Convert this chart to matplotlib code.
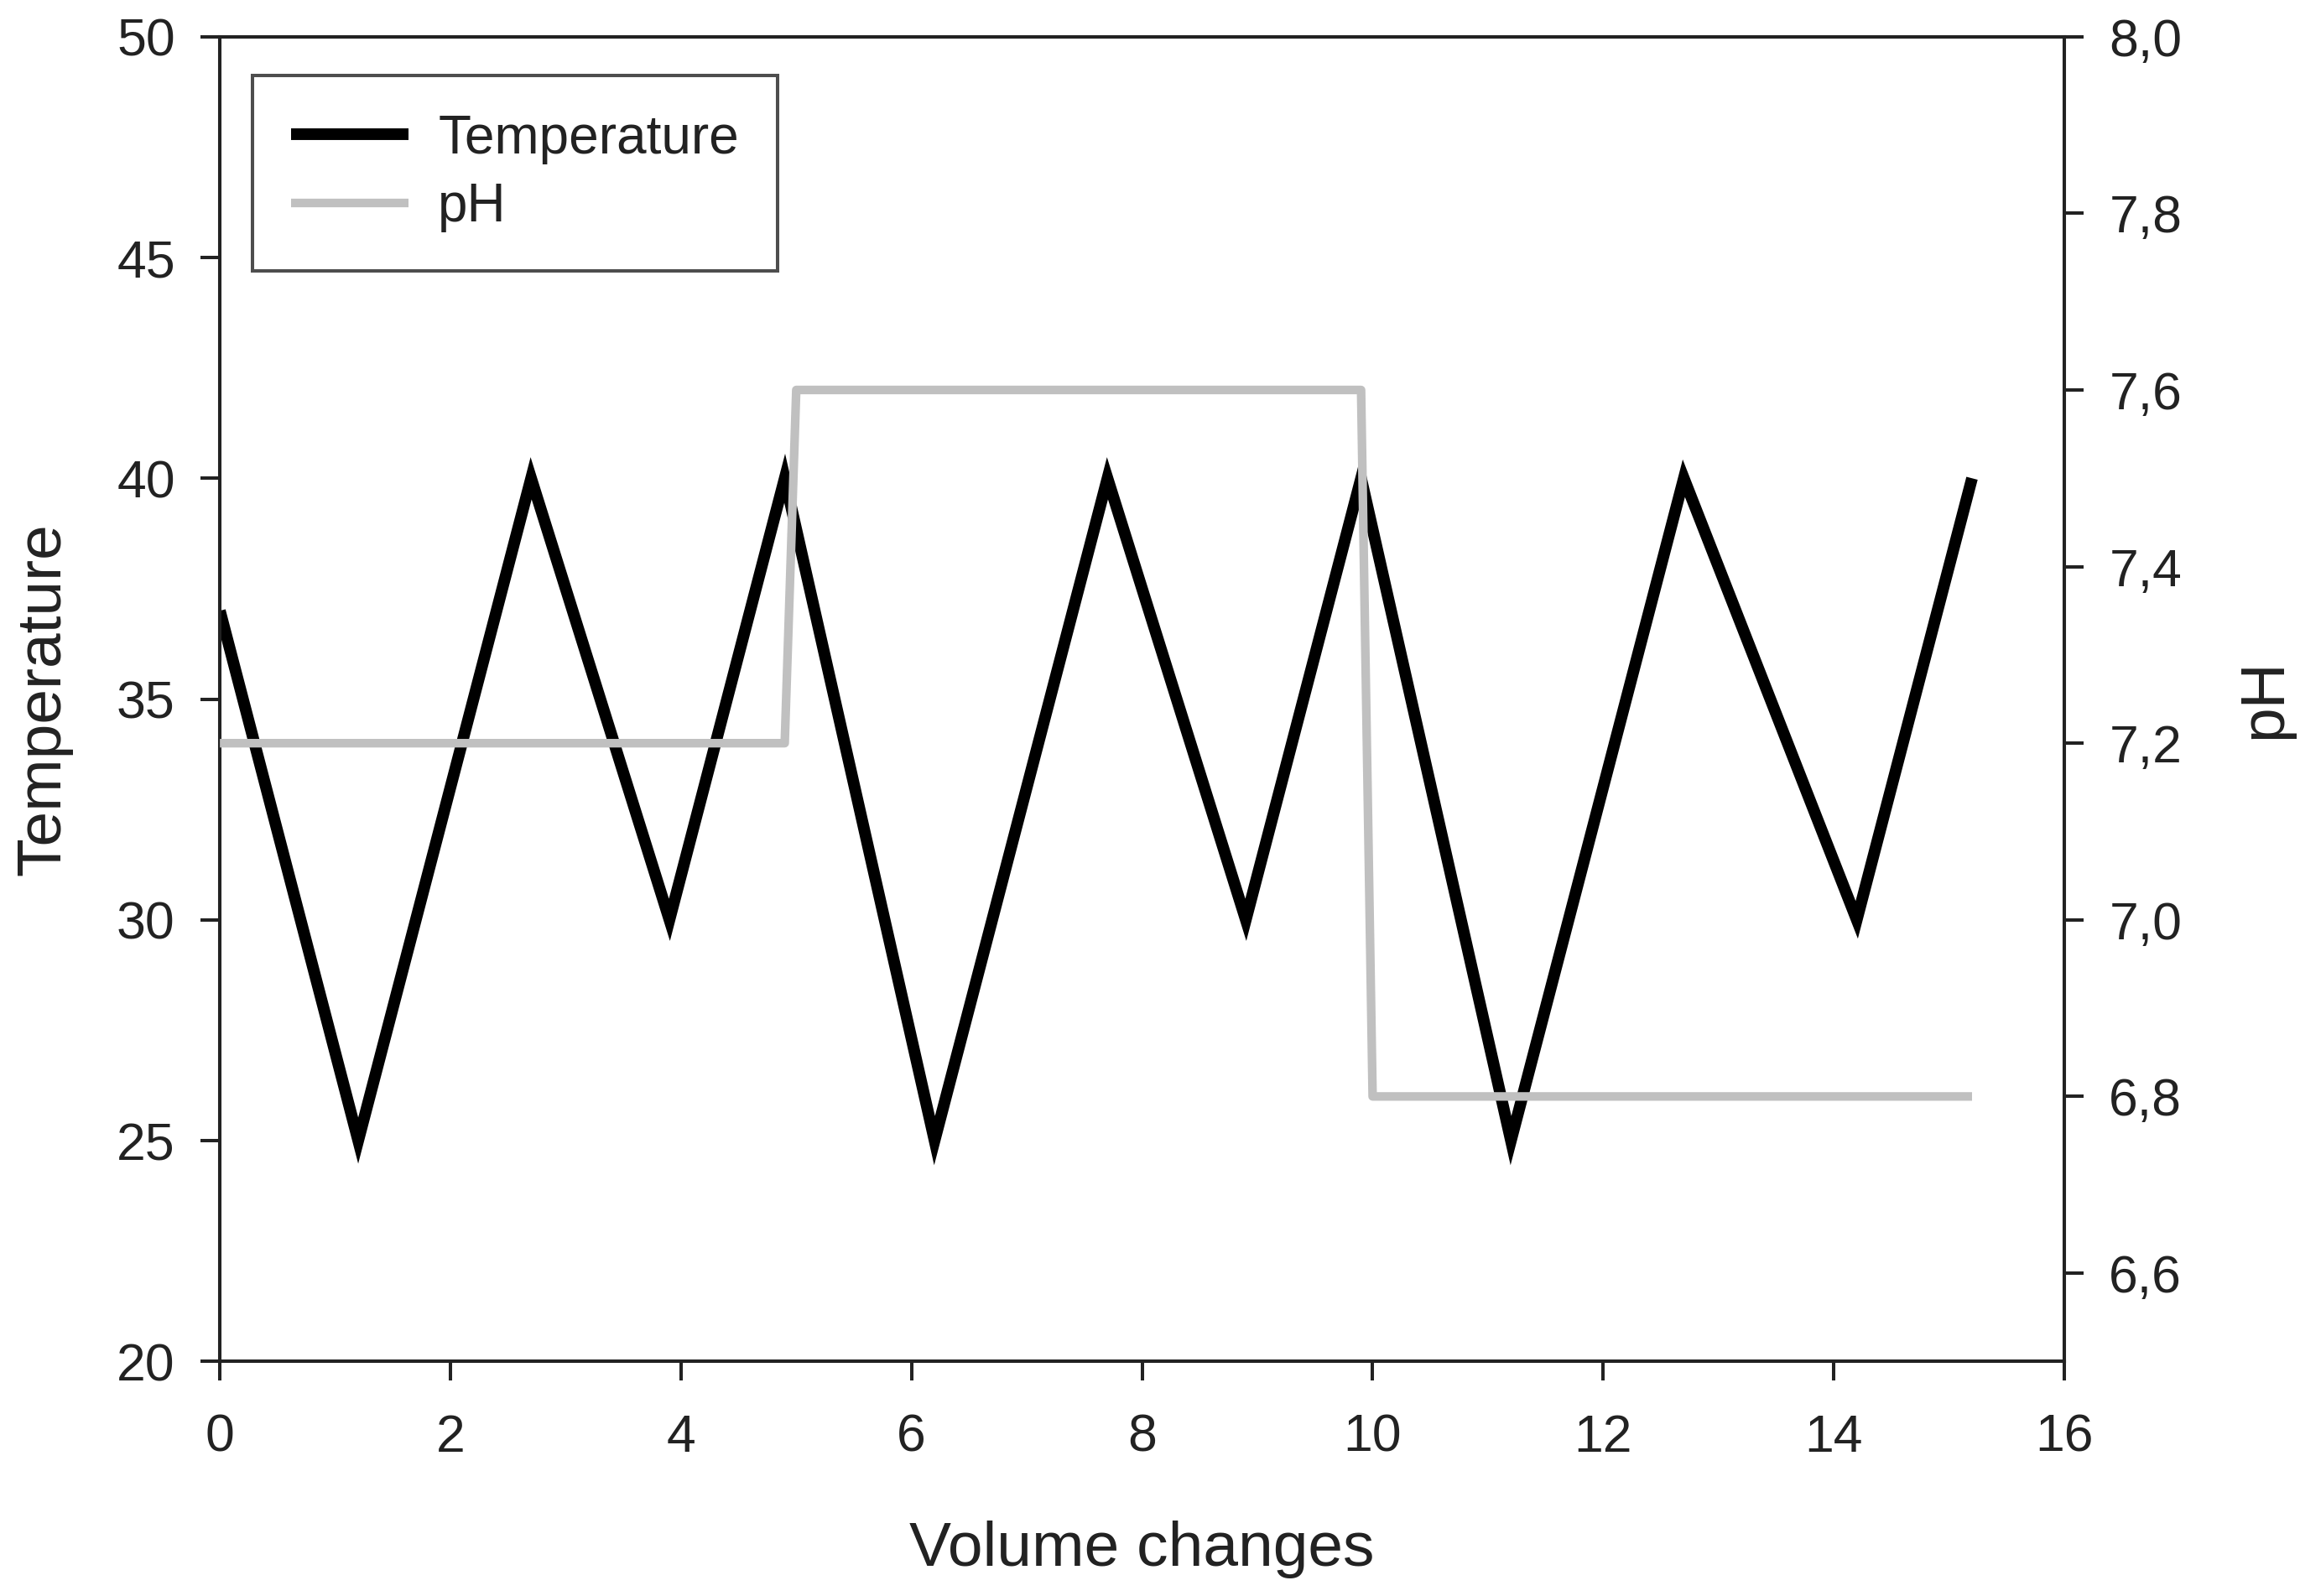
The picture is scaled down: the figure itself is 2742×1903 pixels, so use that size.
import matplotlib
matplotlib.use("Agg")
import matplotlib.pyplot as plt
from matplotlib.ticker import FuncFormatter

plt.rcParams['font.family'] = ['Liberation Sans', 'DejaVu Sans']

temp_x = [0, 1.2, 2.7, 3.9, 4.9, 6.2, 7.7, 8.9, 9.9, 11.2, 12.7, 14.2, 15.2]
temp_y = [37, 25, 40, 30, 40, 25, 40, 30, 40, 25, 40, 30, 40]
ph_x = [0, 4.9, 5.0, 9.9, 10.0, 15.2]
ph_y = [7.2, 7.2, 7.6, 7.6, 6.8, 6.8]
x_ticks = [0, 2, 4, 6, 8, 10, 12, 14, 16]
temp_ticks = [20, 25, 30, 35, 40, 45, 50]
ph_ticks = [6.6, 6.8, 7.0, 7.2, 7.4, 7.6, 7.8, 8.0]

fig = plt.figure(figsize=(13.71, 9.515), dpi=200)
ax = fig.add_axes([0.0956, 0.147, 0.8019, 0.830])
ax2 = ax.twinx()

l1, = ax.plot(temp_x, temp_y, color='black', lw=5.0, solid_joinstyle='miter',
              solid_capstyle='butt', label='Temperature', zorder=2)
l2, = ax2.plot(ph_x, ph_y, color='#c0c0c0', lw=3.7, solid_capstyle='butt',
               label='pH', zorder=3)

ax.set_xlim(0, 16)
ax.set_ylim(20, 50)
ax2.set_ylim(6.5, 8.0)
ax.set_xticks(x_ticks)
ax.set_yticks(temp_ticks)
ax2.set_yticks(ph_ticks)
ax2.yaxis.set_major_formatter(FuncFormatter(lambda v, p: f"{v:.1f}".replace('.', ',')))

for a in (ax, ax2):
    for s in a.spines.values():
        s.set_linewidth(1.45)
        s.set_color('#222222')
    a.tick_params(direction='out', length=8.2, width=1.45, labelsize=22.5,
                  colors='#222222')
ax.tick_params(axis='x', pad=14)
ax.tick_params(axis='y', pad=11)
ax2.tick_params(axis='y', pad=11)

ax.set_xlabel('Volume changes', fontsize=27, labelpad=25, color='#222222')
ax.set_ylabel('Temperature', fontsize=27, labelpad=19, color='#222222')
ax2.set_ylabel('pH', fontsize=27, labelpad=23, color='#222222')

leg = ax.legend([l1, l2], ['Temperature', 'pH'], loc='upper left',
                bbox_to_anchor=(0.0175, 0.971), fontsize=23, frameon=True,
                fancybox=False, edgecolor='#222222', borderpad=0.72,
                handlelength=2.2, handletextpad=0.55, labelspacing=0.34,
                borderaxespad=0)
leg.get_frame().set_linewidth(1.45)
for t in leg.get_texts():
    t.set_color('#222222')

fig.savefig('out.png', dpi=200)
